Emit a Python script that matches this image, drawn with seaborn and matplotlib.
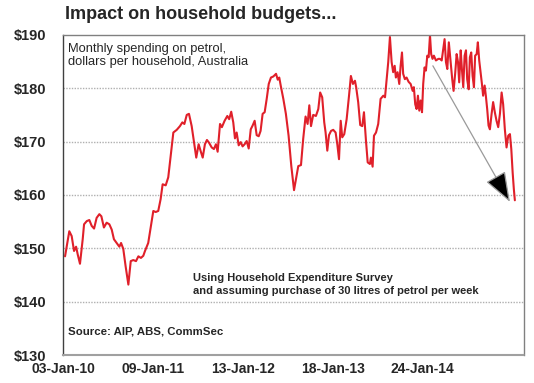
"""
Impact on household budgets - monthly spending on petrol (weekly series)
"""
import matplotlib
matplotlib.use("Agg")
import matplotlib.pyplot as plt
import seaborn as sns
import pandas as pd

# week number counted from 03-Jan-10 (category axis, 53 points per label)
weeks = [
    1.2, 3.7, 5.1, 6.5, 7.7, 8.7, 10.0, 11.6, 12.4, 14.0, 15.5, 16.9, 18.3, 19.8,
    21.4, 22.6, 24.1, 25.7, 27.3, 28.7, 30.0, 31.6, 33.2, 34.2, 35.5, 36.9, 38.5,
    39.9, 41.4, 43.0, 44.4, 45.9, 47.3, 48.3, 50.2, 51.8, 53.2, 54.6, 56.1, 57.5,
    58.7, 60.5, 62.0, 63.2, 65.0, 67.0, 68.9, 70.3, 71.5, 72.9, 74.2, 75.8, 77.2,
    78.5, 79.9, 81.1, 82.3, 83.6, 84.8, 86.0, 87.6, 88.9, 90.1, 91.1, 92.5, 93.6,
    95.2, 96.8, 97.9, 99.1, 100.3, 101.3, 102.3, 103.5, 104.7, 105.8, 107.0, 108.2,
    109.4, 110.6, 111.7, 112.9, 114.1, 115.3, 116.4, 117.6, 118.8, 120.0, 121.2,
    122.5, 123.9, 125.5, 126.5, 127.4, 128.2, 129.8, 131.3, 132.9, 134.5, 136.1,
    137.6, 138.6, 140.2, 141.5, 142.9, 144.1, 145.1, 146.1, 147.4, 149.0, 150.4,
    151.5, 152.7, 153.9, 154.7, 155.7, 156.7, 157.9, 159.2, 160.6, 161.6, 162.6,
    163.6, 164.5, 165.7, 167.1, 168.5, 169.6, 170.8, 172.0, 172.7, 173.9, 175.1,
    176.3, 177.3, 178.5, 179.5, 180.8, 181.4, 182.4, 183.2, 184.4, 185.7, 187.1,
    188.7, 189.7, 190.7, 191.6, 192.6, 193.6, 194.5, 195.4, 196.1, 197.1, 198.1,
    198.9, 199.7, 200.4, 201.4, 202.4, 203.6, 204.8, 206.0, 206.7, 207.5, 208.3,
    209.1, 209.9, 210.7, 211.5, 212.2, 213.0, 213.8, 214.6, 215.4, 216.2, 216.9,
    217.7, 218.5, 219.7, 221.1, 222.1, 223.1, 224.0, 224.8, 225.6, 226.4, 227.3,
    228.3, 229.3, 230.1, 231.1, 231.9, 232.7, 233.4, 234.3, 235.0, 235.8, 236.6,
    237.4, 238.1, 239.0, 239.7, 240.5, 241.3, 242.1, 242.8, 243.7, 244.4, 245.2,
    246.0, 246.8, 247.5, 248.4, 249.1, 249.9, 250.7, 251.5, 252.5, 253.4, 254.4,
    255.4, 256.4, 257.4, 258.4, 259.3, 260.3, 261.3, 262.3, 263.3, 264.1, 264.9,
    265.6, 266.2,
]

# dollars per household per month
spending = [
    148.5, 153.2, 152.3, 149.5, 150.3, 148.8, 147.1, 151.7, 154.5, 155.1, 155.3,
    154.2, 153.7, 155.7, 156.4, 156.0, 153.9, 154.8, 154.5, 153.5, 151.7, 151.0,
    150.3, 151.0, 149.9, 146.6, 143.2, 147.6, 147.8, 147.6, 148.5, 148.2, 148.6,
    149.5, 151.0, 154.2, 157.0, 156.8, 157.0, 159.2, 162.0, 161.8, 163.3, 166.7,
    171.7, 172.2, 172.9, 173.6, 173.3, 175.0, 175.2, 172.9, 169.8, 167.0, 169.5,
    168.2, 167.0, 169.5, 170.3, 169.8, 168.9, 168.6, 169.5, 168.1, 173.3, 172.7,
    173.9, 174.8, 174.2, 175.6, 173.6, 170.6, 171.7, 169.3, 169.9, 169.1, 169.5,
    170.1, 168.7, 172.3, 173.0, 173.9, 171.2, 171.0, 172.0, 175.2, 175.5, 178.0,
    180.8, 182.0, 182.2, 182.7, 181.6, 182.0, 180.6, 178.0, 175.2, 171.1, 165.4,
    160.9, 163.6, 165.4, 165.6, 170.5, 174.7, 173.3, 176.8, 172.9, 175.0, 174.8,
    176.1, 179.2, 178.3, 173.6, 171.7, 168.3, 171.2, 172.0, 172.2, 171.7, 169.5,
    166.7, 173.9, 170.8, 171.4, 174.2, 178.6, 182.3, 180.8, 181.4, 180.2, 177.4,
    173.1, 172.9, 175.5, 170.1, 166.1, 165.8, 167.0, 165.3, 171.1, 171.7, 173.3,
    178.0, 178.6, 178.3, 181.7, 184.9, 189.6, 184.9, 183.0, 184.2, 182.0, 183.0,
    180.8, 184.2, 186.7, 182.7, 181.7, 182.0, 181.2, 180.8, 179.5, 180.2, 177.0,
    176.1, 178.6, 175.8, 177.7, 175.5, 180.8, 183.9, 183.3, 186.1, 185.8, 189.9,
    186.4, 185.5, 186.1, 185.2, 185.5, 185.5, 185.2, 187.4, 189.2, 184.9, 183.6,
    188.6, 185.2, 181.7, 179.5, 183.0, 186.4, 184.9, 181.1, 187.1, 183.6, 180.2,
    186.1, 187.1, 181.7, 179.8, 185.8, 186.7, 182.3, 180.2, 186.1, 186.4, 188.6,
    185.2, 183.0, 180.8, 178.6, 180.5, 178.6, 176.1, 173.0, 172.3, 175.2, 177.4,
    175.5, 173.9, 172.7, 175.2, 179.2, 177.0, 172.3, 168.9, 171.1, 171.4, 168.6,
    164.2, 161.1, 159.0,
]

tick_weeks = [0, 53, 106, 159, 212]
tick_labels = ["03-Jan-10", "09-Jan-11", "13-Jan-12", "18-Jan-13", "24-Jan-14"]
y_ticks = [130, 140, 150, 160, 170, 180, 190]

# hand-drawn trend arrow (start / end in data units)
arrow_start = (217.9, 184.2)
arrow_end = (263.3, 158.7)

sns.set_style("white")
plt.rcParams["font.family"] = ["Liberation Sans", "DejaVu Sans"]

df = pd.DataFrame({"week": weeks, "spending": spending})

fig = plt.figure(figsize=(5.34, 3.83), dpi=100)
ax = fig.add_axes([0.118, 0.073, 0.863, 0.836])

sns.lineplot(data=df, x="week", y="spending", color="#e0202a", lw=1.5, ax=ax)

ax.set_xlim(0, 271.5)
ax.set_ylim(130, 190)
ax.set_xticks(tick_weeks)
ax.set_xticklabels(tick_labels, fontsize=10, fontweight="bold")
ax.set_yticks(y_ticks)
ax.set_yticklabels([f"${v}" for v in y_ticks], fontsize=10.5, fontweight="bold")
ax.tick_params(axis="both", length=0)
ax.tick_params(axis="y", pad=12)
ax.tick_params(axis="x", pad=5)
ax.set_xlabel("")
ax.set_ylabel("")

for v in y_ticks[1:-1]:
    ax.axhline(v, color="#b0b0b0", lw=1, ls=(0, (1, 1)), zorder=0)

for side in ["top", "right"]:
    ax.spines[side].set_color("#808080")
    ax.spines[side].set_linewidth(1)
ax.spines["left"].set_color("#404040")
ax.spines["left"].set_linewidth(1)
ax.spines["bottom"].set_color("#a0a0a0")
ax.spines["bottom"].set_linewidth(1.5)
ax.spines["bottom"].set_linestyle((0, (1, 1)))

ax.annotate(
    "", xy=arrow_end, xytext=arrow_start,
    arrowprops=dict(arrowstyle="-|>,head_length=1.9,head_width=0.7",
                    ec="#9a9a9a", fc="black", lw=0.9, shrinkA=0, shrinkB=0),
)

fig.text(0.122, 0.962, "Impact on household budgets...", fontsize=13,
         fontweight="bold", va="center")
ax.text(0.011, 0.975, "Monthly spending on petrol,\ndollars per household, Australia",
        transform=ax.transAxes, fontsize=9.3, va="top", linespacing=1.15)
ax.text(0.282, 0.255,
        "Using Household Expenditure Survey\nand assuming purchase of 30 litres of petrol per week",
        transform=ax.transAxes, fontsize=8, fontweight="bold", va="top", linespacing=1.35)
ax.text(0.011, 0.075, "Source: AIP, ABS, CommSec", transform=ax.transAxes,
        fontsize=8.2, fontweight="bold", va="center")

fig.savefig("out.png", dpi=100)
